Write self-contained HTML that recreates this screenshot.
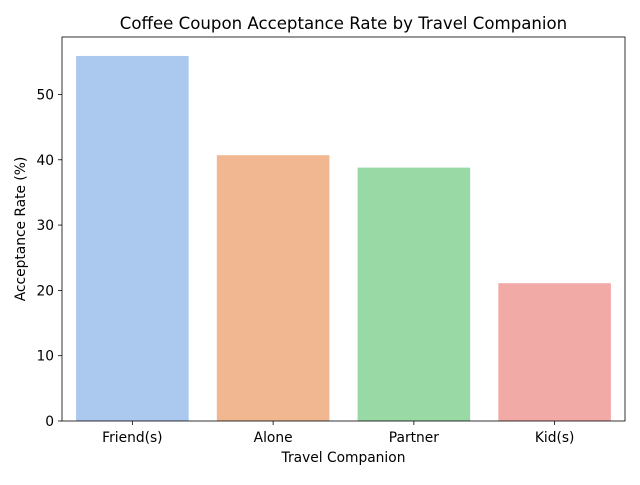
<!DOCTYPE html>
<html><head><meta charset="utf-8"><style>
body{margin:0;background:#fff;font-family:"Liberation Sans","DejaVu Sans",sans-serif;}
svg text{font-family:"DejaVu Sans","Liberation Sans",sans-serif;fill:#000;}
</style></head><body>
<svg id="chart" width="640" height="480"></svg>
<script>
const categories=["Friend(s)","Alone","Partner","Kid(s)"];
const rates=[55.9,40.7,38.8,21.1];
const colors=["#abc8ee","#f1b791","#98d9a6","#f2aaa7"];
const yTicks=[0,10,20,30,40,50];
const L=62,R=625,T=37,B=421,yMax=58.8;
const NS="http://www.w3.org/2000/svg";
const svg=document.getElementById('chart');
function y(v){return B-(v/yMax)*(B-T);}
const bw=(R-L)/categories.length;
function x(i){return L+bw*(i+0.5);}
function mk(tag,attrs,txt){const e=document.createElementNS(NS,tag);for(const k in attrs)e.setAttribute(k,attrs[k]);if(txt!==undefined)e.textContent=txt;svg.appendChild(e);return e;}
categories.forEach((c,i)=>{
 const r=mk('rect',{x:x(i)-bw*0.4,y:y(rates[i]),width:bw*0.8,height:B-y(rates[i]),fill:colors[i]});
 
 
 const t=mk('line',{x1:x(i),x2:x(i),y1:B,y2:B+4,stroke:'#000','stroke-width':0.8});
 
 
 const l=mk('text',{x:x(i),y:B+21,'text-anchor':'middle','font-size':13.8},c);
 
 
});
yTicks.forEach(v=>{
 const t=mk('line',{x1:L-4,x2:L,y1:y(v),y2:y(v),stroke:'#000','stroke-width':0.8});
 
 
 const l=mk('text',{x:L-8,y:y(v)+5,'text-anchor':'end','font-size':13.8},v);
 
 
});
const f=mk('rect',{x:L,y:T,width:R-L,height:B-T,fill:'none',stroke:'#000','stroke-width':0.8});


const ti=mk('text',{x:(L+R)/2,y:T-8,'text-anchor':'middle','font-size':16.6},'Coffee Coupon Acceptance Rate by Travel Companion');


const xt=mk('text',{x:(L+R)/2,y:462,'text-anchor':'middle','font-size':13.8},'Travel Companion');


const yt=mk('text',{x:0,y:0,'text-anchor':'middle','font-size':13.8,transform:`translate(25,${(T+B)/2}) rotate(-90)`},'Acceptance Rate (%)');


</script>
</body></html>
